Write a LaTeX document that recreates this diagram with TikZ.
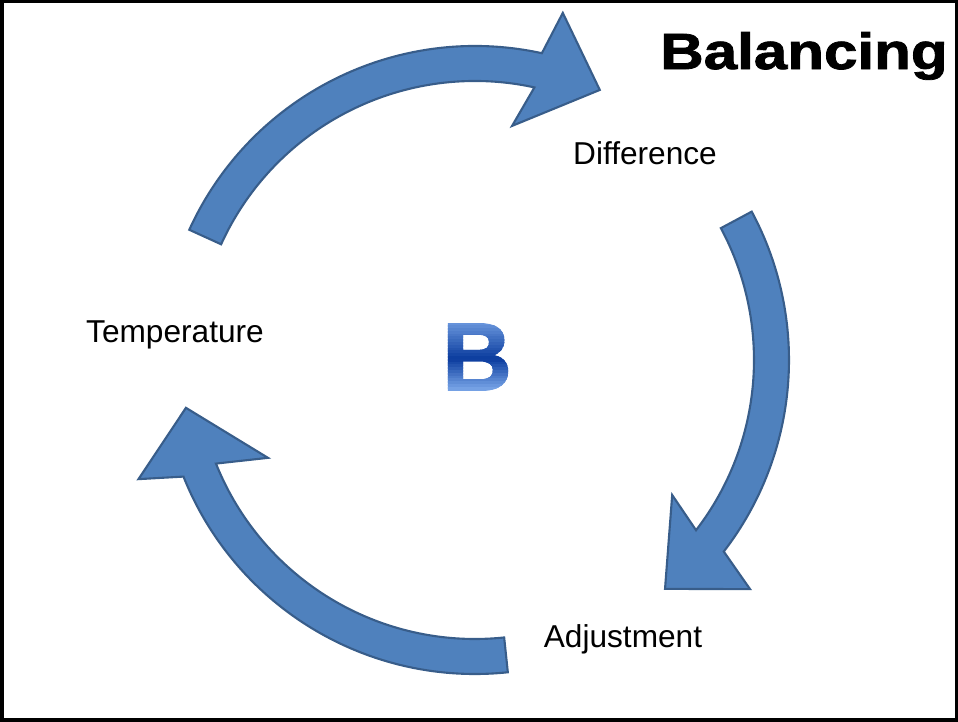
\documentclass[tikz,border=0pt]{standalone}
\usepackage{fontspec}
\setmainfont{Liberation Sans}
\newfontfamily\headfont[FakeBold=1.5]{Liberation Sans}
\usepackage{tikz}
\usetikzlibrary{calc,positioning}
\definecolor{arrowblue}{HTML}{4F81BD}
\definecolor{arrowedge}{HTML}{385D8A}
\definecolor{btop}{HTML}{6A97DD}
\definecolor{bmid}{HTML}{0B3C9E}
\definecolor{bbot}{HTML}{7AA6E8}
\newcommand{\bletterfont}{\headfont\bfseries\fontsize{55}{60}\selectfont}
\tikzset{
  blockarrow/.style={fill=arrowblue,draw=arrowedge,line width=1.2pt,line join=miter},
  looplabel/.style={font=\fontsize{18}{22}\selectfont,inner sep=0pt}
}

\begin{document}
\begin{tikzpicture}
    \useasboundingbox (0,0) rectangle (19.16,14.44);
    \draw[line width=0.07cm] (0.035,0.035) rectangle (19.125,14.405);
    \coordinate (c) at (9.5,7.24);
    % the three curved arrows round the loop
    \draw[blockarrow] ($(c)+(155.5:6.28)$) arc[start angle=155.5,end angle=77.7,radius=6.28]
      -- ($(c)+(75.8:7.16)$) -- ($(c)+(65.2:5.95)$) -- ($(c)+(81:4.74)$)
      -- ($(c)+(77.7:5.58)$) arc[start angle=77.7,end angle=155.5,radius=5.58] -- cycle;
    \draw[blockarrow] ($(c)+(28.2:6.28)$) arc[start angle=28.2,end angle=-37.6,radius=6.28]
      -- ($(c)+(-39.8:7.16)$) -- ($(c)+(-50.3:5.95)$) -- ($(c)+(-34.4:4.78)$)
      -- ($(c)+(-37.6:5.58)$) arc[start angle=-37.6,end angle=28.2,radius=5.58] -- cycle;
    \draw[blockarrow] ($(c)+(-84:6.28)$) arc[start angle=-84,end angle=-158.2,radius=6.28]
      -- ($(c)+(-160.5:7.14)$) -- ($(c)+(-170.6:5.86)$) -- ($(c)+(-154.7:4.58)$)
      -- ($(c)+(-158.2:5.58)$) arc[start angle=-158.2,end angle=-84,radius=5.58] -- cycle;
    \node[looplabel] (diff) at (12.9,11.38) {Difference};
    \node[looplabel] (temp) at (3.5,7.74) {Temperature};
    \node[looplabel] (adj) at (12.46,1.66) {Adjustment};
    \node[inner sep=0pt] (title) at (16.08,13.32)
      {\scalebox{1.18}[1]{\headfont\bfseries\fontsize{29}{34}\selectfont Balancing}};
    % the B in the middle, shaded in bands
    \node[inner sep=0pt,font=\bletterfont,text opacity=0] (B) at (9.54,7.3) {B};
    \foreach \k in {0,...,23}{
      \pgfmathtruncatemacro{\p}{\k<13 ? 100*(1-(\k+0.5)/13) : 100*((\k+0.5)-13)/11}
      \ifnum\k<13 \colorlet{bandcol}{btop!\p!bmid}\else\colorlet{bandcol}{bbot!\p!bmid}\fi
      \begin{scope}
        \clip ($(B.north west)!{\k/24}!(B.south west)+(-0.2,0.01)$)
          rectangle ($(B.north east)!{(\k+1)/24}!(B.south east)+(0.2,-0.01)$);
        \node[inner sep=0pt,font=\bletterfont,text=bandcol] at (B) {B};
      \end{scope}
    }
\end{tikzpicture}
\end{document}
